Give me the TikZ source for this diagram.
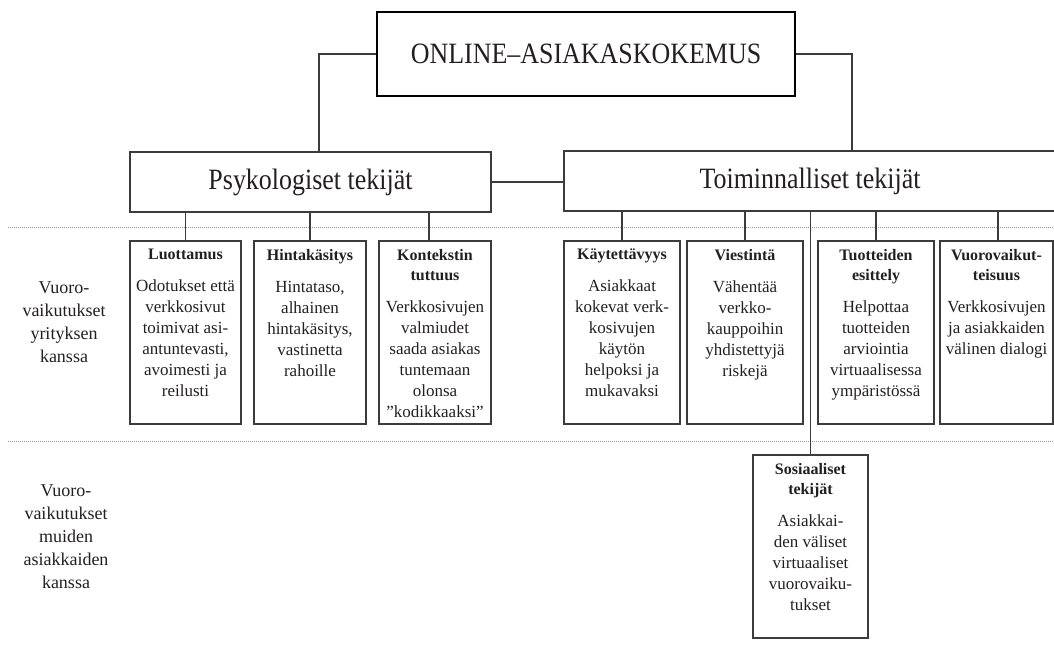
\documentclass[tikz,border=0pt]{standalone}
\usepackage{fontspec}
\setmainfont{Liberation Serif}
\newfontfamily\headfont[FakeStretch=0.88]{Liberation Serif}

\definecolor{linec}{RGB}{60,60,60}
\definecolor{textc}{RGB}{35,31,32}
\definecolor{dotc}{RGB}{150,150,150}

% box with a bold heading and body text, set from the top
\newcommand\cellbox[4]{\parbox[c][#2][t]{#1}{\centering\vspace*{8pt}%
  {\bfseries\fontsize{16}{20}\selectfont #3\par}\vspace{11pt}%
  {\fontsize{17}{21}\selectfont #4\par}}}

\begin{document}
\begin{tikzpicture}[x=1pt,y=-1pt,
  every node/.style={text=textc},
  headbox/.style={draw=black, line width=1.8pt, inner sep=0pt, font=\headfont\fontsize{29.5}{32}\selectfont},
  factor/.style={draw=linec, line width=1.3pt, inner sep=0pt, minimum height=60pt, font=\headfont\fontsize{29.5}{32}\selectfont},
  cell/.style={draw=linec, line width=1.2pt, inner sep=0pt},
  link/.style={draw=linec, line width=1.2pt},
  rowlabel/.style={align=center, font=\fontsize{18}{23}\selectfont},
  divider/.style={draw=dotc, line width=0.9pt, dash pattern=on 0.9pt off 1.1pt}]

\useasboundingbox (0,0) rectangle (1054,647);

% level dividers
\draw[divider] (8,227) -- (1054,227);
\draw[divider] (8,441) -- (1054,441);

% row labels
\node[rowlabel] (rowA) at (64,322) {Vuoro-\\vaikutukset\\yrityksen\\kanssa};
\node[rowlabel] (rowB) at (66,537) {Vuoro-\\vaikutukset\\muiden\\asiakkaiden\\kanssa};

% main concept and its two factor groups
\node[headbox, minimum width=418pt, minimum height=84pt] (top) at (586,54) {ONLINE–ASIAKASKOKEMUS};
\node[factor, minimum width=361pt] (psy) at (310.5,182) {Psykologiset tekijät};
\node[factor, minimum width=492pt] (toim) at (810,181) {Toiminnalliset tekijät};

% psychological factors
\node[cell] (l1) at (185.5,332.5) {\cellbox{111pt}{183pt}{Luottamus}{Odotukset että\\verkkosivut\\toimivat asi-\\antuntevasti,\\avoimesti ja\\reilusti}};
\node[cell] (l2) at (310,332.5) {\cellbox{112pt}{183pt}{Hintakäsitys}{Hintataso,\\alhainen\\hintakäsitys,\\vastinetta\\rahoille}};
\node[cell] (l3) at (435,332.5) {\cellbox{112pt}{183pt}{Kontekstin\\tuttuus}{Verkkosivujen\\valmiudet\\saada asiakas\\tuntemaan\\olonsa\\”kodikkaaksi”}};

% functional factors
\node[cell] (r1) at (622,332.5) {\cellbox{116pt}{183pt}{Käytettävyys}{Asiakkaat\\kokevat verk-\\kosivujen\\käytön\\helpoksi ja\\mukavaksi}};
\node[cell] (r2) at (745,332.5) {\cellbox{116pt}{183pt}{Viestintä}{Vähentää\\verkko-\\kauppoihin\\yhdistettyjä\\riskejä}};
\node[cell] (r3) at (876,332.5) {\cellbox{116pt}{183pt}{Tuotteiden\\esittely}{Helpottaa\\tuotteiden\\arviointia\\virtuaalisessa\\ympäristössä}};
\node[cell] (r4) at (996.5,332.5) {\cellbox{113pt}{183pt}{Vuorovaikut-\\teisuus}{Verkkosivujen\\ja asiakkaiden\\välinen dialogi}};

% social factors
\node[cell] (soc) at (810.5,546.5) {\cellbox{115pt}{183pt}{Sosiaaliset\\tekijät}{Asiakkai-\\den väliset\\virtuaaliset\\vuorovaiku-\\tukset}};

% connectors
\draw[link] (top.west) -| ([xshift=8.5pt]psy.north);
\draw[link] (top.east) -| ([xshift=42pt]toim.north);
\draw[link] (psy.east) -- (psy.east -| toim.west);

\draw[link] (l1.north) -- (l1.north |- psy.south);
\draw[link] (l2.north) -- (l2.north |- psy.south);
\draw[link] ([xshift=-6pt]l3.north) -- ([xshift=-6pt]l3.north |- psy.south);

\draw[link] (r1.north) -- (r1.north |- toim.south);
\draw[link] (r2.north) -- (r2.north |- toim.south);
\draw[link] (r3.north) -- (r3.north |- toim.south);
\draw[link] ([xshift=1.5pt]r4.north) -- ([xshift=1.5pt]r4.north |- toim.south);
\draw[link] (soc.north) -- (soc.north |- toim.south);

\end{tikzpicture}
\end{document}
